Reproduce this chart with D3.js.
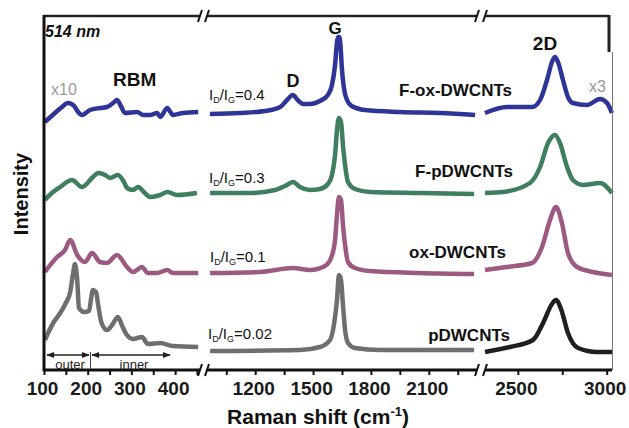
<!DOCTYPE html>
<html>
<head>
<meta charset="utf-8">
<script src="https://cdn.jsdelivr.net/npm/d3@7"></script>
<style>
  html, body { margin: 0; padding: 0; background: #fff; }
  svg { display: block; font-family: "Liberation Sans", Arial, sans-serif; }
</style>
</head>
<body>
<svg id="chart" width="629" height="428"></svg>
<script>
// ---------------- DATA ----------------
const samples = ["pDWCNTs", "ox-DWCNTs", "F-pDWCNTs", "F-ox-DWCNTs"];
const ratioLabels = ["0.02", "0.1", "0.3", "0.4"];
const ticksRBM = [100, 200, 300, 400];
const ticksG = [1200, 1500, 1800, 2100];
const ticks2D = [2500, 3000];
const minorRBM = [100, 150, 200, 250, 300, 350, 400, 450];
const minorG = [1050, 1200, 1350, 1500, 1650, 1800, 1950, 2100, 2250];
const minor2D = [2500, 2750, 3000];

// RBM region (x10), [Raman shift, intensity a.u.]
const rbmGray = [[102,30],[121,47],[137,57],[150,67],[160,78],[166,95],[171,106],[176,90],[180,62],[192,58],[203,59],[208,72],[212,80],[219,78],[224,65],[231,48],[244,40],[256,45],[269,53],[279,44],[288,36],[304,31],[324,33],[338,26],[366,27],[395,24],[453,23]];
const rbmMauve = [[102,98],[130,113],[148,120],[160,130],[176,115],[194,108],[210,117],[228,108],[244,107],[267,115],[290,103],[304,98],[324,103],[338,97],[359,97],[382,100],[395,97],[453,97]];
const rbmGreen = [[102,170],[118,177],[137,183],[164,190],[187,183],[212,193],[224,197],[240,195],[251,192],[269,195],[283,188],[290,182],[304,180],[315,183],[331,177],[343,173],[366,175],[382,178],[405,175],[450,177]];
const rbmBlue = [[102,248],[125,257],[141,263],[155,267],[169,264],[178,258],[187,255],[205,260],[228,262],[244,263],[258,267],[267,270],[276,264],[285,257],[313,258],[327,255],[343,255],[359,257],[366,253],[382,262],[395,255],[418,257],[453,258]];

// D / G region
const gGray = [[966,19],[1432,20],[1536,23],[1588,30],[1608,45],[1624,70],[1634,95],[1645,90],[1655,65],[1666,40],[1681,27],[1717,22],[1847,20],[2335,20]];
const gMauve = [[966,97],[1225,98],[1396,102],[1484,100],[1562,104],[1593,112],[1614,130],[1624,155],[1634,173],[1645,170],[1655,145],[1666,125],[1681,108],[1717,102],[1795,99],[2054,97],[2335,96]];
const gGreen = [[966,177],[1173,177],[1303,180],[1354,184],[1396,188],[1432,183],[1484,180],[1536,181],[1577,186],[1598,195],[1614,215],[1624,240],[1634,252],[1645,248],[1655,225],[1666,205],[1681,188],[1717,181],[1795,178],[2054,177],[2335,176]];
const gBlue = [[965,256],[1120,257],[1250,259],[1330,263],[1365,270],[1395,275],[1420,270],[1450,266],[1485,266],[1535,269],[1577,275],[1598,285],[1614,305],[1624,328],[1630,333],[1636,333],[1642,325],[1650,300],[1660,282],[1676,270],[1700,264],[1770,260],[1950,258],[2160,257],[2340,255]];

// 2D region (x3)
const dBlack = [[2315,18],[2456,23],[2585,30],[2642,47],[2692,66],[2715,70],[2743,61],[2782,37],[2839,22],[2946,18],[3030,18]];
const dMauve = [[2315,100],[2439,103],[2580,107],[2636,123],[2681,150],[2715,163],[2748,147],[2782,117],[2833,103],[2923,98],[3030,95]];
const dGreen = [[2315,177],[2416,178],[2568,187],[2625,203],[2670,227],[2709,235],[2737,227],[2777,203],[2810,190],[2867,185],[2962,187],[3030,177]];
const dBlue = [[2315,257],[2439,263],[2580,263],[2625,270],[2664,290],[2692,308],[2709,313],[2726,308],[2754,290],[2782,273],[2810,267],[2889,265],[2962,271],[3002,267],[3030,257]];

// ---------------- LAYOUT ----------------
const svg = d3.select("#chart");
const yBase = 370, yTop = 16;
const y = d3.scaleLinear().domain([0, 354]).range([yBase, yTop]);

const segs = [
  { scale: d3.scaleLinear().domain([100, 457]).range([44, 200]), major: ticksRBM, minor: minorRBM,
    series: [rbmGray, rbmMauve, rbmGreen, rbmBlue] },
  { scale: d3.scaleLinear().domain([950, 2350]).range([207, 477]), major: ticksG, minor: minorG,
    series: [gGray, gMauve, gGreen, gBlue] },
  { scale: d3.scaleLinear().domain([2315, 3030]).range([485, 612]), major: ticks2D, minor: minor2D,
    series: [dBlack, dMauve, dGreen, dBlue] }
];
const colors = [
  ["#6e6e6e", "#9c5a80", "#3f7f5e", "#2f3596"],
  ["#6e6e6e", "#9c5a80", "#3f7f5e", "#2f3596"],
  ["#1f1f1f", "#9c5a80", "#3f7f5e", "#2f3596"]
];

// spectra
segs.forEach((s, si) => {
  const line = d3.line().x(d => s.scale(d[0])).y(d => y(d[1])).curve(d3.curveMonotoneX);
  s.series.forEach((data, k) => {
    svg.append("path").datum(data)
      .attr("d", line)
      .attr("fill", "none")
      .attr("stroke", colors[si][k])
      .attr("stroke-width", 4.5)
      .attr("stroke-linejoin", "round")
      .attr("stroke-linecap", "butt");
  });
});

// axes per segment
segs.forEach((s) => {
  const ax = d3.axisBottom(s.scale)
    .tickValues(s.minor)
    .tickSize(5)
    .tickPadding(7)
    .tickFormat(d => s.major.includes(d) ? d : "");
  const g = svg.append("g").attr("transform", `translate(0,${yBase})`).call(ax);
  g.select(".domain").remove();
  g.selectAll(".tick line").attr("stroke", "#111").attr("stroke-width", 2);
  g.selectAll(".tick text")
    .attr("font-family", "'Liberation Sans', Arial, sans-serif")
    .attr("font-size", 19).attr("font-weight", "bold").attr("fill", "#1a1a1a")
    .attr("dx", -2);
  const r = s.scale.range();
  svg.append("line").attr("x1", r[0]).attr("x2", r[1]).attr("y1", yBase).attr("y2", yBase)
    .attr("stroke", "#111").attr("stroke-width", 3);
  svg.append("line").attr("x1", r[0]).attr("x2", r[1] === 612 ? 609 : r[1]).attr("y1", yTop).attr("y2", yTop)
    .attr("stroke", "#222").attr("stroke-width", 2.5);
});

// break marks
[200, 207, 477, 485].forEach(bx => {
  [yBase, yTop].forEach(by => {
    svg.append("line").attr("x1", bx - 2).attr("y1", by + 6).attr("x2", bx + 2).attr("y2", by - 6)
      .attr("stroke", "#111").attr("stroke-width", 2);
  });
});

// frame
svg.append("line").attr("x1", 44).attr("x2", 44).attr("y1", yTop - 1).attr("y2", yBase + 1.5)
  .attr("stroke", "#111").attr("stroke-width", 3);
svg.append("line").attr("x1", 609).attr("x2", 609).attr("y1", yTop - 1).attr("y2", 52)
  .attr("stroke", "#222").attr("stroke-width", 3);
svg.append("line").attr("x1", 612.5).attr("x2", 612.5).attr("y1", 52).attr("y2", yBase)
  .attr("stroke", "#777").attr("stroke-width", 1);

// axis titles
svg.append("text").attr("transform", "translate(28,194) rotate(-90)")
  .attr("text-anchor", "middle").attr("font-size", 20).attr("font-weight", "bold").attr("fill", "#111")
  .text("Intensity");
const xt = svg.append("text").attr("x", 318).attr("y", 424).attr("text-anchor", "middle")
  .attr("font-size", 21).attr("font-weight", "bold").attr("fill", "#111");
xt.append("tspan").text("Raman shift (cm");
xt.append("tspan").attr("font-size", 13).attr("dy", -8).text("-1");
xt.append("tspan").attr("dy", 8).text(")");

// annotations
const txt = (x, yy, s, opts = {}) => {
  const t = svg.append("text").attr("x", x).attr("y", yy).text(s)
    .attr("font-size", opts.size || 16)
    .attr("font-weight", opts.weight || "normal")
    .attr("fill", opts.fill || "#111")
    .attr("text-anchor", opts.anchor || "start");
  if (opts.italic) t.attr("font-style", "italic");
  return t;
};
txt(45, 37, "514 nm", { size: 16, weight: "bold", italic: true });
txt(113, 86, "RBM", { size: 19, weight: "bold" });
txt(51, 95, "x10", { size: 16, fill: "#9a9a9a" });
txt(606, 92, "x3", { size: 16, fill: "#9a9a9a", anchor: "end" });
txt(293, 87, "D", { size: 18, weight: "bold", anchor: "middle" });
txt(335, 34, "G", { size: 17, weight: "bold", anchor: "middle" });
txt(545, 50, "2D", { size: 19, weight: "bold", anchor: "middle" });

// sample names
const nameEnds = [510, 506, 513, 512];
const nameBase = [341, 258, 177, 96];
samples.forEach((s, i) => txt(nameEnds[i], nameBase[i], s, { size: 17, weight: "bold", anchor: "end" }));

// ID/IG ratio labels
const ratioX = [208, 210, 209, 209];
const ratioBase = [339, 262, 183, 100];
ratioLabels.forEach((r, i) => {
  const t = svg.append("text").attr("x", ratioX[i]).attr("y", ratioBase[i])
    .attr("font-size", 15).attr("fill", "#111");
  t.append("tspan").text("I");
  t.append("tspan").attr("font-size", 9).attr("dy", 3).text("D");
  t.append("tspan").attr("dy", -3).text("/I");
  t.append("tspan").attr("font-size", 9).attr("dy", 3).text("G");
  t.append("tspan").attr("dy", -3).text("=" + r);
});

// outer / inner arrows
const defs = svg.append("defs");
defs.append("marker").attr("id", "ah").attr("viewBox", "0 0 10 10").attr("refX", 9).attr("refY", 5)
  .attr("markerWidth", 6).attr("markerHeight", 6).attr("orient", "auto-start-reverse")
  .append("path").attr("d", "M0,1 L10,5 L0,9 Z").attr("fill", "#222");
[[47, 89], [92, 170]].forEach(([a, b]) => {
  svg.append("line").attr("x1", a).attr("x2", b).attr("y1", 355).attr("y2", 355)
    .attr("stroke", "#222").attr("stroke-width", 1.3)
    .attr("marker-start", "url(#ah)").attr("marker-end", "url(#ah)");
});
svg.append("line").attr("x1", 90.5).attr("x2", 90.5).attr("y1", 352).attr("y2", 369)
  .attr("stroke", "#444").attr("stroke-width", 1);
txt(70, 369, "outer", { size: 13, anchor: "middle", fill: "#222" });
txt(134, 369, "inner", { size: 13, anchor: "middle", fill: "#222" });
</script>
</body>
</html>
